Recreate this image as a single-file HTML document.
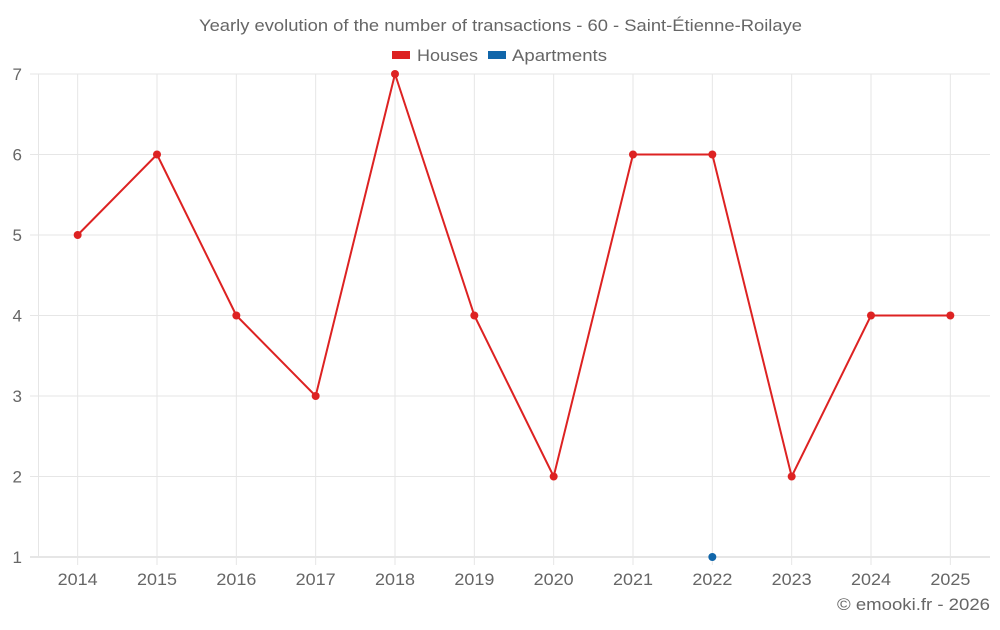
<!DOCTYPE html>
<html><head><meta charset="utf-8"><style>
body{margin:0;background:#fff;font-family:"Liberation Sans",sans-serif}
svg text{font-family:"Liberation Sans",sans-serif;fill:#666}
</style></head><body>
<svg id="c" width="1000" height="625">
<text x="199" y="31" font-size="17" textLength="603" lengthAdjust="spacingAndGlyphs">Yearly evolution of the number of transactions - 60 - Saint-Étienne-Roilaye</text>
<g>
<g><rect x="392" y="51" width="18" height="8" fill="#dd2222"/><text x="417" y="61" font-size="17" textLength="61" lengthAdjust="spacingAndGlyphs">Houses</text></g>
<g><rect x="488" y="51" width="18" height="8" fill="#1166aa"/><text x="512" y="61" font-size="17" textLength="95" lengthAdjust="spacingAndGlyphs">Apartments</text></g>
</g>
<g id="grid"></g><g id="axes"></g><g id="marks"></g>
<text x="837" y="610" font-size="17" textLength="153" lengthAdjust="spacingAndGlyphs">© emooki.fr - 2026</text>
</svg>
<script>
const categories=["2014","2015","2016","2017","2018","2019","2020","2021","2022","2023","2024","2025"];
const houses=[5,6,4,3,7,4,2,6,6,2,4,4];
const apartments=[null,null,null,null,null,null,null,null,1,null,null,null];
const yTicks=[1,2,3,4,5,6,7];
const L=38,R=990,T=74,B=557,yMin=1,yMax=7;
const bw=(R-L)/categories.length;
const x=i=>L+bw*(i+0.5);
const y=v=>B-(v-yMin)/(yMax-yMin)*(B-T);
const NS="http://www.w3.org/2000/svg";
function mk(t,a,p){const e=document.createElementNS(NS,t);for(const k in a)e.setAttribute(k,a[k]);p.appendChild(e);return e;}
const g=document.getElementById('grid'),ax=document.getElementById('axes'),m=document.getElementById('marks');
yTicks.forEach(v=>{
 const l=mk('line',{x1:30,x2:R,y1:y(v),y2:y(v),stroke:v===yMin?'#ccc':'#e6e6e6'},g);
 
 
 const t=mk('text',{x:22,y:y(v)+6,'text-anchor':'end','font-size':17},ax);t.textContent=v;
 
 
});
const l0=mk('line',{x1:L+.5,x2:L+.5,y1:T,y2:B,stroke:'#e6e6e6'},g);


categories.forEach((c,i)=>{
 const l=mk('line',{x1:x(i),x2:x(i),y1:T,y2:B+8,stroke:'#e6e6e6'},g);
 
 
 const t=mk('text',{x:x(i),y:B+28,'text-anchor':'middle','font-size':17,textLength:40,lengthAdjust:'spacingAndGlyphs'},ax);t.textContent=c;
 
 
});
const pts=houses.map((v,i)=>v==null?null:x(i)+','+y(v)).filter(p=>p).join(' ');
const pl=mk('polyline',{points:pts,fill:'none',stroke:'#dd2222','stroke-width':2},m);


houses.forEach((v,i)=>{if(v==null)return;
 const p=mk('circle',{cx:x(i),cy:y(v),r:4,fill:'#dd2222'},m);
 
 
});
apartments.forEach((v,i)=>{if(v==null)return;
 const p=mk('circle',{cx:x(i),cy:y(v),r:4,fill:'#1166aa'},m);
 
 
});
</script>
</body></html>
